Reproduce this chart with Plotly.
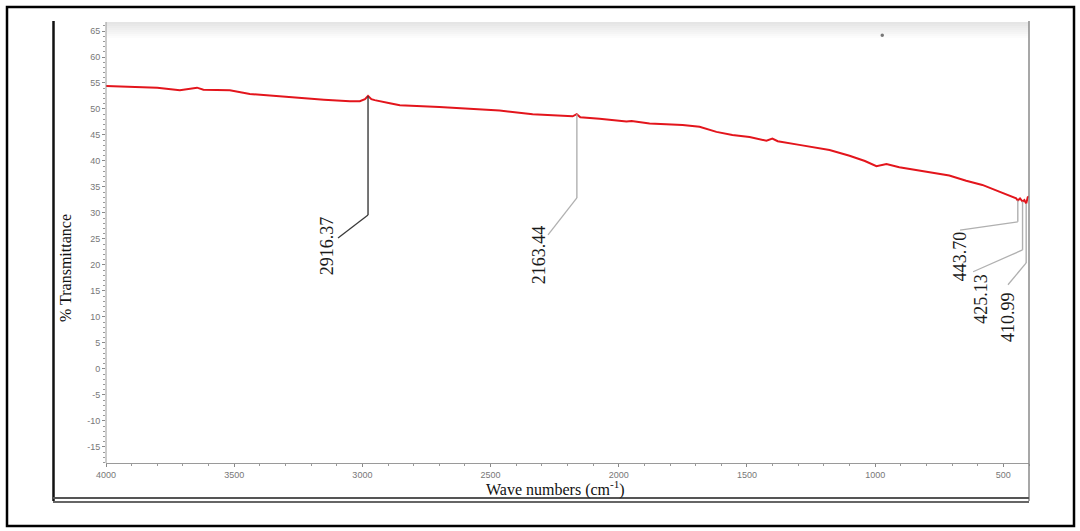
import numpy as np
import plotly.graph_objects as go

# ---- data ----
wavenumber = [4000, 3900, 3800, 3712, 3680, 3645, 3620, 3556, 3517, 3439, 3340, 3244, 3150,
              3049, 3010, 2990, 2978, 2965, 2952, 2893, 2854, 2700, 2593, 2465, 2336, 2211,
              2180, 2164, 2150, 2075, 2000, 1970, 1950, 1880, 1751, 1685, 1619, 1557, 1490,
              1424, 1401, 1380, 1296, 1178, 1100, 1040, 995, 956, 906, 840, 711, 645, 582,
              516, 450, 443.7, 435, 425, 418, 411, 405, 400]
transmittance = [54.4, 54.3, 54.1, 53.6, 53.9, 54.1, 53.7, 53.7, 53.6, 52.9, 52.5, 52.2, 51.8,
                 51.5, 51.5, 51.9, 52.5, 51.9, 51.7, 51.1, 50.7, 50.4, 50.1, 49.7, 49.0, 48.7,
                 48.6, 49.0, 48.4, 48.1, 47.8, 47.6, 47.7, 47.2, 46.9, 46.6, 45.6, 45.0, 44.6,
                 43.9, 44.3, 43.8, 43.1, 42.1, 41.0, 40.0, 39.0, 39.4, 38.8, 38.3, 37.2, 36.2,
                 35.4, 34.1, 32.8, 32.4, 32.8, 32.2, 32.5, 31.8, 33.0, 33.2]

peak_labels = ["2916.37", "2163.44", "443.70", "425.13", "410.99"]
peak_line_x = [2978, 2163.44, 443.70, 425.13, 410.99]     # where the marker line is drawn
peak_line_bottom = [29.6, 32.9, 28.3, 22.9, 20.4]         # lower end of the vertical marker
peak_elbow_x = [3095, 2276, 669, 618, 482]                # end of the slanted leader
peak_elbow_y = [25.2, 25.8, 26.7, 18.7, 16.2]
peak_text_x = [3138, 2311, 669, 587, 482]
peak_text_y = [23.6, 21.9, 21.7, 13.5, 10.0]
peak_colors = ["#3a3a3a", "#b0b0b0", "#b0b0b0", "#b0b0b0", "#b0b0b0"]

x_ticks = [4000, 3500, 3000, 2500, 2000, 1500, 1000, 500]
y_ticks = list(range(-15, 66, 5))

# ---- layout geometry (pixels) ----
W, H = 1080, 531
L, R, T, B = 106, 1029, 22, 463


def px(xp, yp):
    return (xp - L) / (R - L), (B - yp) / (B - T)


fig = go.Figure()
fig.add_trace(go.Scatter(x=wavenumber, y=transmittance, mode="lines",
                         line=dict(color="#e3151c", width=2), hoverinfo="skip",
                         showlegend=False))

shapes = []
# top gradient band
for i in range(8):
    x0, y0 = px(L, T + i * 2)
    x1, y1 = px(R, T + i * 2 + 2)
    shapes.append(dict(type="rect", xref="paper", yref="paper", x0=x0, x1=x1, y0=y1, y1=y0,
                       fillcolor="#d4d4d4", opacity=0.6 * (1 - i / 8), line=dict(width=0),
                       layer="below"))

# peak marker lines
for i in range(len(peak_labels)):
    xtop = peak_line_x[i]
    ytop = float(np.interp(xtop, wavenumber[::-1], transmittance[::-1]))
    shapes.append(dict(type="line", x0=xtop, x1=xtop, y0=ytop, y1=peak_line_bottom[i],
                       line=dict(color=peak_colors[i], width=1.4)))
    shapes.append(dict(type="line", x0=xtop, x1=peak_elbow_x[i], y0=peak_line_bottom[i],
                       y1=peak_elbow_y[i], line=dict(color=peak_colors[i], width=1.3)))


def pline(x0p, y0p, x1p, y1p, color, width):
    a, b = px(x0p, y0p)
    c, d = px(x1p, y1p)
    shapes.append(dict(type="line", xref="paper", yref="paper", x0=a, y0=b, x1=c, y1=d,
                       line=dict(color=color, width=width)))


# outer border
ox0, oy0 = px(7, 7)
ox1, oy1 = px(1074, 526)
shapes.append(dict(type="rect", xref="paper", yref="paper", x0=ox0, x1=ox1, y0=oy1, y1=oy0,
                   line=dict(color="black", width=2.5)))
pline(53.5, 21, 53.5, 501, "#111111", 2.5)
pline(1029, 21, 1029, 501, "#8a8a8a", 1.5)
pline(53, 498, 1029, 498, "#555555", 2)
pline(53, 502, 1029, 502, "#666666", 2)
pline(106, 22, 106, 463, "#9a9a9a", 1)

# stray dot near the top
dx0, dy0 = px(880.5, 33.5)
dx1, dy1 = px(884, 37)
shapes.append(dict(type="circle", xref="paper", yref="paper", x0=dx0, x1=dx1, y0=dy1, y1=dy0,
                   fillcolor="#777777", line=dict(width=0)))

annotations = []
for i, lab in enumerate(peak_labels):
    annotations.append(dict(x=peak_text_x[i], y=peak_text_y[i], text=lab, showarrow=False,
                            textangle=-90, xanchor="center", yanchor="middle",
                            font=dict(family="Liberation Serif", size=18, color="#1a1a1a")))

ax_x, ax_y = px(555, 489)
annotations.append(dict(xref="paper", yref="paper", x=ax_x, y=ax_y,
                        text="Wave numbers (cm<sup>-1</sup>)", showarrow=False,
                        xanchor="center", yanchor="middle",
                        font=dict(family="Liberation Serif", size=16, color="#111111")))
ay_x, ay_y = px(65, 268)
annotations.append(dict(xref="paper", yref="paper", x=ay_x, y=ay_y, text="% Transmittance",
                        showarrow=False, textangle=-90, xanchor="center", yanchor="middle",
                        font=dict(family="Liberation Serif", size=16, color="#111111")))

fig.update_layout(
    width=W, height=H,
    margin=dict(l=L, r=W - R, t=T, b=H - B, pad=0),
    paper_bgcolor="white", plot_bgcolor="white",
    shapes=shapes, annotations=annotations, showlegend=False,
    xaxis=dict(range=[4000, 400], tickvals=x_ticks, ticktext=[str(v) for v in x_ticks],
               showgrid=False, zeroline=False, showline=True, linecolor="#9a9a9a", linewidth=1,
               ticks="outside", ticklen=3, tickcolor="#888888",
               minor=dict(dtick=100, ticks="outside", ticklen=2, tickcolor="#999999"),
               tickfont=dict(family="Liberation Sans", size=9, color="#777777")),
    yaxis=dict(range=[-18.08, 66.73], tickvals=y_ticks, ticktext=[str(v) for v in y_ticks],
               showgrid=False, zeroline=False, showline=False,
               ticks="outside", ticklen=3, tickcolor="#888888",
               minor=dict(dtick=1, ticks="outside", ticklen=2, tickcolor="#999999"),
               tickfont=dict(family="Liberation Sans", size=9, color="#777777")),
)

fig.write_html("out.html", config={"displayModeBar": False},
               post_script="document.body.style.margin='0';document.body.style.overflow='hidden';")
